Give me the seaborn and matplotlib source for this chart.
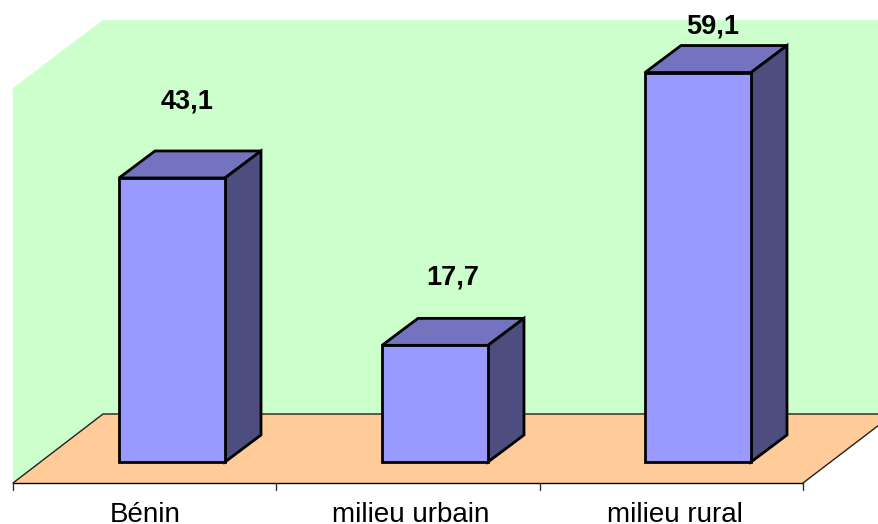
import matplotlib
matplotlib.use('Agg')
import matplotlib.pyplot as plt
from matplotlib.patches import Polygon
import seaborn as sns
import pandas as pd

categories = ['Bénin', 'milieu urbain', 'milieu rural']
values = [43.1, 17.7, 59.1]
value_labels = ['43,1', '17,7', '59,1']

W, H = 879, 524
XS = 263     # pixels per category
YS = 6.59    # pixels per unit
X0, Y0 = 172, 462   # pixel of first category / value 0
DX, DY = 36 / XS, 27 / YS   # bar depth in data units
LABEL_OFFSETS = [(15, 76), (18, 68), (15, 46)]   # label shift from bar top, pixels
NAME_CENTERS = [145, 411, 675]   # category label centres, pixels

sns.set_theme(style='white')
plt.rcParams['font.family'] = ['Liberation Sans', 'DejaVu Sans']

fig = plt.figure(figsize=(W / 100, H / 100), dpi=100, facecolor='white')
ax = fig.add_axes([0, 0, 1, 1])


def px(x, y):
    return (x - X0) / XS, (Y0 - y) / YS


# walls and floor
ax.add_patch(Polygon([px(13, 88), px(103, 20), px(879, 20), px(879, 414), px(103, 414), px(13, 483)],
                     fc='#ccffcc', ec='none', zorder=0))
ax.add_patch(Polygon([px(13, 483), px(103, 414), px(893, 414), px(803, 483)],
                     fc='#ffcc99', ec='none', zorder=0.5))
ax.plot(*zip(px(13, 483), px(103, 414), px(879, 414)), color='#202020', lw=1, zorder=0.6)
ax.plot(*zip(px(803, 483), px(879, 425)), color='#202020', lw=1, zorder=0.6)

# front axis line and ticks
ax.plot(*zip(px(13, 483), px(803, 483)), color='black', lw=1, zorder=1)
for tx in [13, 276, 540, 803]:
    ax.plot(*zip(px(tx, 483), px(tx, 490)), color='#303030', lw=1, zorder=1)

data = pd.DataFrame({'categorie': categories, 'valeur': values})
sns.barplot(data=data, x='categorie', y='valeur', color='#9999ff', saturation=1,
            width=0.403, edgecolor='black', linewidth=2, ax=ax, zorder=3)
ax.set_xlim(-X0 / XS, (W - X0) / XS)
ax.set_ylim((Y0 - H) / YS, Y0 / YS)

# 3D faces from each bar's geometry
for bar, lab, (ox, oy) in zip(ax.containers[0], value_labels, LABEL_OFFSETS):
    x1, x2 = bar.get_x(), bar.get_x() + bar.get_width()
    top = bar.get_height()
    ax.add_patch(Polygon([(x1, top), (x1 + DX, top + DY), (x2 + DX, top + DY), (x2, top)],
                         fc='#7373bf', ec='black', lw=2, joinstyle='miter', zorder=2.5))
    ax.add_patch(Polygon([(x2, 0), (x2 + DX, DY), (x2 + DX, top + DY), (x2, top)],
                         fc='#4d4d80', ec='black', lw=2, joinstyle='miter', zorder=2.5))
    ax.text((x1 + x2) / 2 + ox / XS, top + oy / YS, lab, ha='center', va='center',
            fontsize=19.5, fontweight='bold', color='black', zorder=5)

ax.set_xlabel('')
ax.set_ylabel('')
ax.set_xticks([])
ax.set_yticks([])
for s in ax.spines.values():
    s.set_visible(False)
ax.patch.set_alpha(0)

# baseline sits right at the bottom edge, as in the original
for cx, name in zip(NAME_CENTERS, categories):
    ax.text(px(cx, 522)[0], px(cx, 522)[1], name, ha='center', va='baseline',
            fontsize=20, color='black')

plt.savefig('out.png', dpi=100)
